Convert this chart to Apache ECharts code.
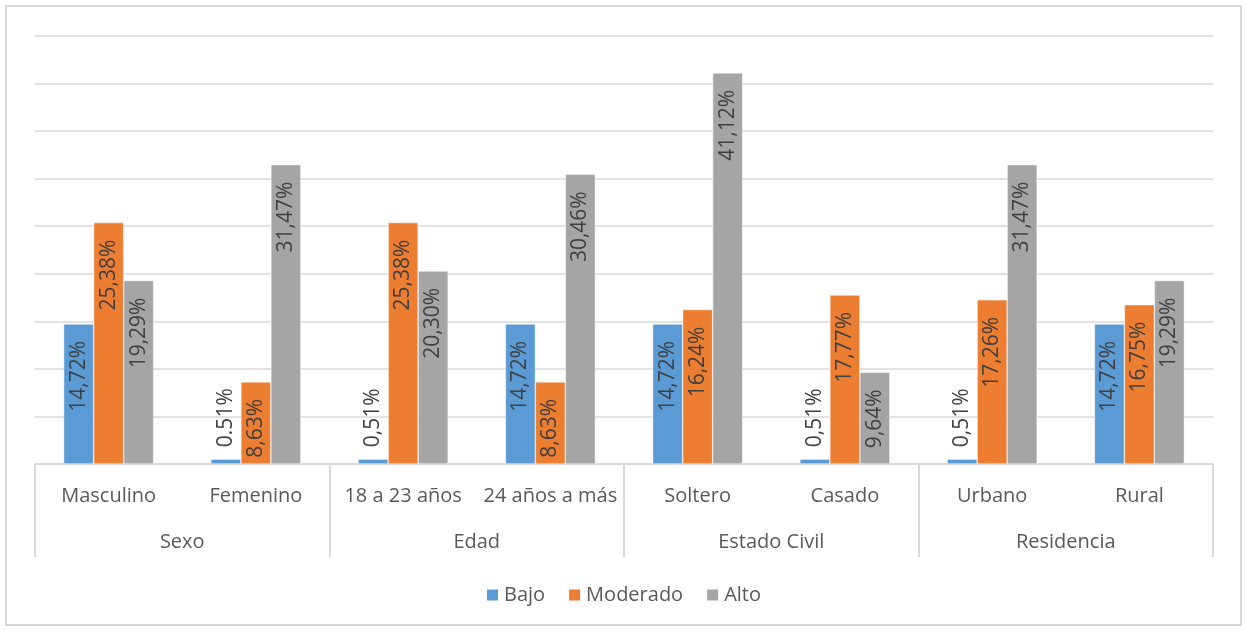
<!DOCTYPE html>
<html>
<head>
<meta charset="utf-8">
<script src="https://cdn.jsdelivr.net/npm/echarts@6/dist/echarts.min.js"></script>
<style>
html,body{margin:0;padding:0;background:#fff;}
#chart{width:1246px;height:630px;}
</style>
</head>
<body>
<div id="chart"></div>
<script>
const categories = ['Masculino','Femenino','18 a 23 años','24 años a más','Soltero','Casado','Urbano','Rural'];
const groups = ['Sexo','Edad','Estado Civil','Residencia'];
const seriesNames = ['Bajo','Moderado','Alto'];
const bajo = [14.72, 0.51, 0.51, 14.72, 14.72, 0.51, 0.51, 14.72];
const moderado = [25.38, 8.63, 25.38, 8.63, 16.24, 17.77, 17.26, 16.75];
const alto = [19.29, 31.47, 20.30, 30.46, 41.12, 9.64, 31.47, 19.29];
const bajoLabels = ['14,72%','0.51%','0,51%','14,72%','14,72%','0,51%','0,51%','14,72%'];
const moderadoLabels = ['25,38%','8,63%','25,38%','8,63%','16,24%','17,77%','17,26%','16,75%'];
const altoLabels = ['19,29%','31,47%','20,30%','30,46%','41,12%','9,64%','31,47%','19,29%'];
const colors = ['#5B9BD5','#ED7D31','#A5A5A5'];

const FONT = 'Open Sans';
const chart = echarts.init(document.getElementById('chart'));

function makeSeries(name, values, labels, color) {
  return {
    name: name,
    type: 'bar',
    barWidth: 30,
    barGap: '0%',
    itemStyle: { color: color, borderColor: '#ffffff', borderWidth: 0.5 },
    label: {
      show: true,
      rotate: 90,
      position: 'insideTop',
      align: 'right',
      verticalAlign: 'middle',
      distance: 17,
      color: '#404040',
      fontSize: 21,
      fontFamily: FONT,
      formatter: p => labels[p.dataIndex]
    },
    data: values.map(v => v < 3 ? {
      value: v,
      label: { position: 'top', align: 'left', verticalAlign: 'middle', distance: 12 }
    } : v)
  };
}

chart.setOption({
  animation: false,
  textStyle: { fontFamily: FONT },
  graphic: [{
    type: 'rect',
    shape: { x: 6, y: 6, width: 1235, height: 619 },
    style: { fill: 'none', stroke: '#d9d9d9', lineWidth: 2 },
    silent: true
  }],
  legend: {
    bottom: 20,
    left: 'center',
    itemWidth: 13,
    itemHeight: 13,
    itemGap: 22,
    icon: 'rect',
    textStyle: { fontSize: 20, color: '#595959', fontFamily: FONT },
    data: seriesNames
  },
  grid: { left: 35, right: 33, top: 36, bottom: 166, containLabel: false },
  xAxis: [{
    type: 'category',
    data: categories,
    axisLine: { show: true, lineStyle: { color: '#d9d9d9', width: 2 } },
    axisTick: { show: false },
    axisLabel: { margin: 22, fontSize: 20, color: '#595959', fontFamily: FONT, interval: 0 },
    splitLine: { show: false }
  }, {
    type: 'category',
    data: groups,
    position: 'bottom',
    axisLine: { show: false },
    axisTick: { show: true, length: 93, interval: 0, lineStyle: { color: '#d9d9d9', width: 2 } },
    axisLabel: { margin: 68, fontSize: 20, color: '#595959', fontFamily: FONT, interval: 0 },
    splitLine: { show: false }
  }],
  yAxis: {
    type: 'value',
    min: 0,
    max: 45,
    interval: 5,
    axisLabel: { show: false },
    axisLine: { show: false },
    axisTick: { show: false },
    splitLine: { lineStyle: { color: '#d9d9d9', width: 1.5 } }
  },
  series: [
    makeSeries('Bajo', bajo, bajoLabels, colors[0]),
    makeSeries('Moderado', moderado, moderadoLabels, colors[1]),
    makeSeries('Alto', alto, altoLabels, colors[2])
  ]
});
</script>
</body>
</html>
